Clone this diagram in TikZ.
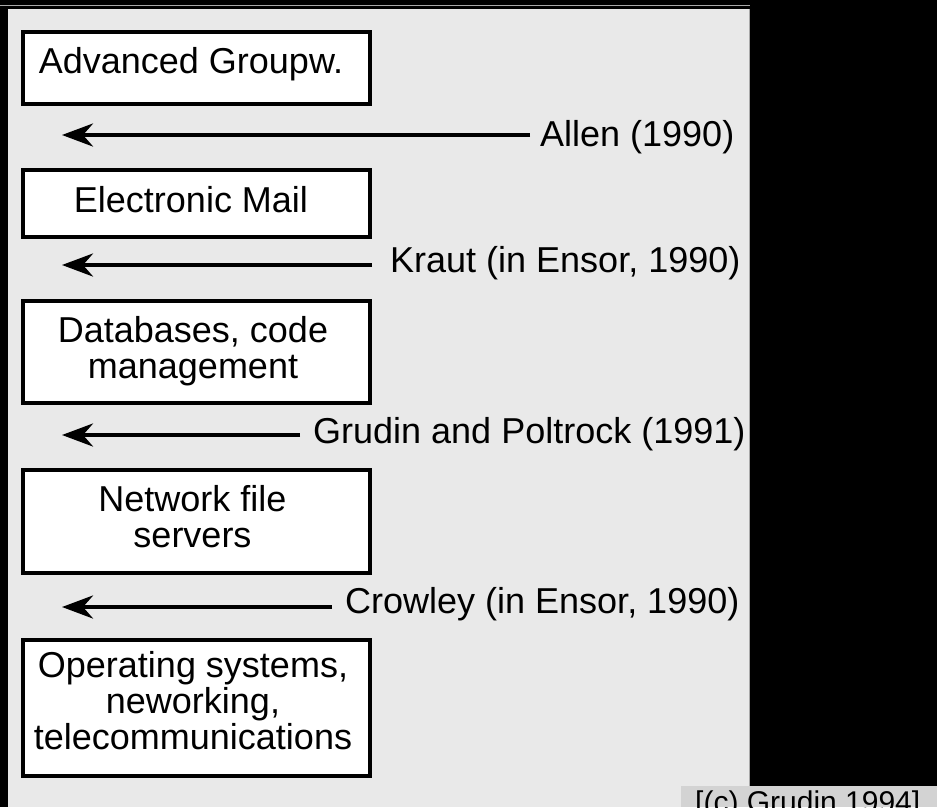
\documentclass[tikz,border=0pt]{standalone}
\usepackage{fontspec}
\setmainfont{Liberation Sans}
\usetikzlibrary{arrows.meta}
\definecolor{panelgray}{HTML}{E9E9E9}
\definecolor{notegray}{HTML}{D3D3D3}
\definecolor{rulegray}{HTML}{A8A8A8}
\begin{document}
\begin{tikzpicture}[x=1pt,y=-1pt,
  box/.style={draw=black, line width=4pt, fill=white, inner sep=0pt},
  boxtext/.style={font=\fontsize{36}{36}\selectfont, align=center, inner sep=0pt},
  reftext/.style={font=\fontsize{36}{36}\selectfont, inner ysep=0pt, anchor=base west},
  arr/.style={line width=4pt, -{Stealth[length=31pt,width=23pt,inset=10pt]}}]
\useasboundingbox (0,0) rectangle (937,807);
\clip (0,0) rectangle (937,807);
% background
\fill[black] (0,0) rectangle (937,807);
\draw[rulegray, line width=1pt] (0,5) -- (750,5);
\fill[panelgray] (8,9) rectangle (750,807);
\draw[rulegray, line width=1pt] (749.5,9) -- (749.5,786);
\fill[notegray] (681,786) rectangle (937,807);
\node[font=\fontsize{30}{30}\selectfont, anchor=base west, inner sep=0pt] (copy) at (695,812) {[(c) Grudin 1994]};
% boxes
\node[box, minimum width=347pt, minimum height=72pt] (b1) at (196.5,68) {};
\node[boxtext, anchor=base] (b1t) at (191,73) {Advanced Groupw.};
\node[box, minimum width=347pt, minimum height=67pt] (b2) at (196.5,203.5) {};
\node[boxtext, anchor=base] (b2t) at (191,212) {Electronic Mail};
\node[box, minimum width=347pt, minimum height=102pt] (b3) at (196.5,352) {};
\node[boxtext] (b3t) at (193,351.5) {Databases, code\\management};
\node[box, minimum width=347pt, minimum height=103pt] (b4) at (196.5,521.5) {};
\node[boxtext] (b4t) at (192.5,517) {Network file\\servers};
\node[box, minimum width=347pt, minimum height=136pt] (b5) at (196.5,708) {};
\node[boxtext] (b5t) at (193,700.5) {Operating systems,\\neworking,\\telecommunications};
% references with arrows
\coordinate (t1) at (62,135);
\node[reftext, inner xsep=10pt] (l1) at (530,146) {Allen (1990)};
\draw[arr] (t1 -| l1.west) -- (t1);
\coordinate (t2) at (62,265);
\node[reftext, inner xsep=18pt] (l2) at (372,272) {Kraut (in Ensor, 1990)};
\draw[arr] (t2 -| l2.west) -- (t2);
\coordinate (t3) at (62,435);
\node[reftext, inner xsep=13pt] (l3) at (300,443) {Grudin and Poltrock (1991)};
\draw[arr] (t3 -| l3.west) -- (t3);
\coordinate (t4) at (62,607);
\node[reftext, inner xsep=13pt] (l4) at (332,613) {Crowley (in Ensor, 1990)};
\draw[arr] (t4 -| l4.west) -- (t4);
\end{tikzpicture}
\end{document}
